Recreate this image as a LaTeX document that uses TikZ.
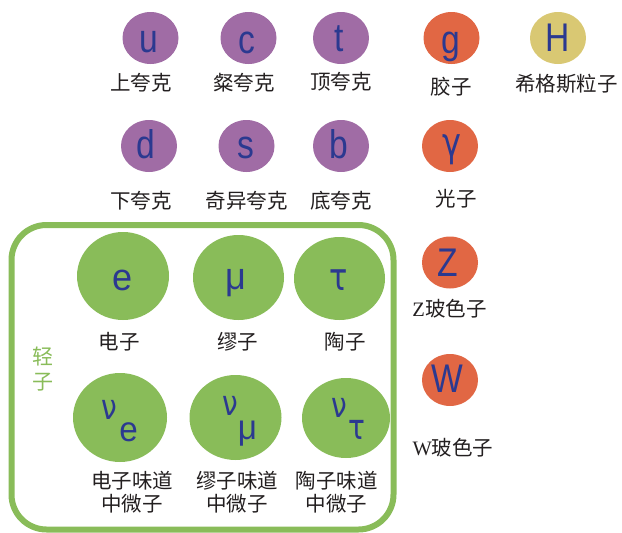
\documentclass[tikz,border=0pt]{standalone}
\usepackage{fontspec}
\usepackage{graphicx}
\setmainfont{Liberation Serif}
\setsansfont{Liberation Sans}
\newfontfamily\cjk{Noto Sans CJK SC}
\newfontfamily\grk{DejaVu Sans}
\usetikzlibrary{shapes.geometric}
\definecolor{quarkc}{HTML}{A06CA5}
\definecolor{bosonc}{HTML}{E16744}
\definecolor{higgsc}{HTML}{D9C873}
\definecolor{leptonc}{HTML}{89BC59}
\definecolor{symc}{HTML}{2B3990}
\definecolor{labc}{HTML}{231F20}
\newcommand\sqz[1]{\scalebox{0.84}[1]{#1}}
\newcommand\lsqz[1]{\scalebox{0.95}[1]{#1}}
\newcommand\gsqz[1]{\scalebox{0.8}[1]{\grk #1}}
\begin{document}
\begin{tikzpicture}[x=1pt,y=-1pt,
 ball/.style={ellipse,inner sep=0pt,draw=none},
 small/.style={ball,minimum width=56pt,minimum height=52pt},
 quark/.style={small,fill=quarkc},
 boson/.style={small,fill=bosonc},
 higgs/.style={small,fill=higgsc},
 lepton/.style={ball,fill=leptonc},
 sym/.style={inner sep=0pt,text=symc,font=\sffamily\fontsize{40}{40}\selectfont},
 lsym/.style={inner sep=0pt,text=symc,font=\sffamily\fontsize{38}{38}\selectfont},
 nsym/.style={inner sep=0pt,text=symc,font=\sffamily\fontsize{35}{35}\selectfont},
 lab/.style={inner sep=0pt,text=labc,font=\cjk\fontsize{20.5}{23}\selectfont,align=center},
]
\useasboundingbox (0,0) rectangle (622,533);
% lepton frame
\node[draw=leptonc,line width=6pt,rounded corners=35pt,rectangle,inner sep=0pt,
  minimum width=382pt,minimum height=304.5pt] (box) at (202.5,377.25) {};
% quarks
\node[quark] (u) at (150.5,38) {};
\node[quark] (c) at (248.5,38) {};
\node[quark] (t) at (341,38) {};
\node[quark] (d) at (149,146) {};
\node[quark] (s) at (246.5,146) {};
\node[quark] (b) at (341,146) {};
\node[sym] (us) at (148.5,42) {\sqz{u}};
\node[sym] (cs) at (246.5,42.5) {\sqz{c}};
\node[sym] (ts) at (339,39) {\sqz{t}};
\node[sym] (ds) at (146,144) {\sqz{d}};
\node[sym] (ss) at (246,147.5) {\sqz{s}};
\node[sym] (bs) at (338.5,144) {\sqz{b}};
\node[lab] (ul) at (141,83) {上夸克};
\node[lab] (cl) at (244,83) {粲夸克};
\node[lab] (tl) at (341,82) {顶夸克};
\node[lab] (dl) at (141,201) {下夸克};
\node[lab] (sl) at (246.5,201) {奇异夸克};
\node[lab] (bl) at (341,201) {底夸克};
% bosons
\node[boson] (g) at (451.5,38) {};
\node[higgs] (H) at (558,38) {};
\node[boson] (gam) at (450,146) {};
\node[boson] (Z) at (450,262.5) {};
\node[boson] (W) at (450,380) {};
\node[sym] (gs) at (451,47) {\sqz{g}};
\node[sym] (Hs) at (558,38) {\sqz{H}};
\node[sym] (gams) at (451.5,150) {\gsqz{γ}};
\node[sym] (Zs) at (448,262.5) {\sqz{Z}};
\node[sym] (Ws) at (447.5,379) {\sqz{W}};
\node[lab] (gl) at (451,87) {胶子};
\node[lab] (Hl) at (566.5,84) {希格斯粒子};
\node[lab] (gaml) at (456,199) {光子};
\node[lab] (Zl) at (449.5,309) {{\rmfamily Z}玻色子};
\node[lab] (Wl) at (453,448) {{\rmfamily W}玻色子};
% leptons
\node[lab,text=leptonc,font=\cjk\fontsize{21}{25}\selectfont] (lep) at (43,369.5) {轻\\子};
\node[lepton,minimum width=92pt,minimum height=88pt] (e) at (123,276) {};
\node[lepton,minimum width=91pt,minimum height=85pt] (mu) at (238.5,277.5) {};
\node[lepton,minimum width=91pt,minimum height=83pt] (tau) at (339.5,278.5) {};
\node[lsym] (es) at (122.5,280) {\lsqz{e}};
\node[lsym] (mus) at (236,283.5) {\lsqz{μ}};
\node[lsym] (taus) at (338.5,280) {\gsqz{τ}};
\node[lab] (el) at (119,341.5) {电子};
\node[lab] (mul) at (237.5,341.5) {缪子};
\node[lab] (taul) at (345,341.5) {陶子};
\node[lepton,minimum width=94pt,minimum height=89pt] (ne) at (120,417.5) {};
\node[lepton,minimum width=92pt,minimum height=85pt] (nmu) at (235.5,417.5) {};
\node[lepton,minimum width=88pt,minimum height=80pt] (ntau) at (346,418) {};
\node[nsym] (nev) at (109,410) {\gsqz{ν}};
\node[nsym] (nes) at (128.5,432.5) {\lsqz{e}};
\node[nsym] (nmuv) at (230,406) {\gsqz{ν}};
\node[nsym] (nmus) at (247.5,433.5) {\lsqz{μ}};
\node[nsym] (ntauv) at (339.5,407.5) {\gsqz{ν}};
\node[nsym] (ntaus) at (356.5,430) {\gsqz{τ}};
\node[lab] (nel) at (132,492.5) {电子味道\\中微子};
\node[lab] (nmul) at (237,492.5) {缪子味道\\中微子};
\node[lab] (ntaul) at (336.5,492.5) {陶子味道\\中微子};
\end{tikzpicture}
\end{document}
